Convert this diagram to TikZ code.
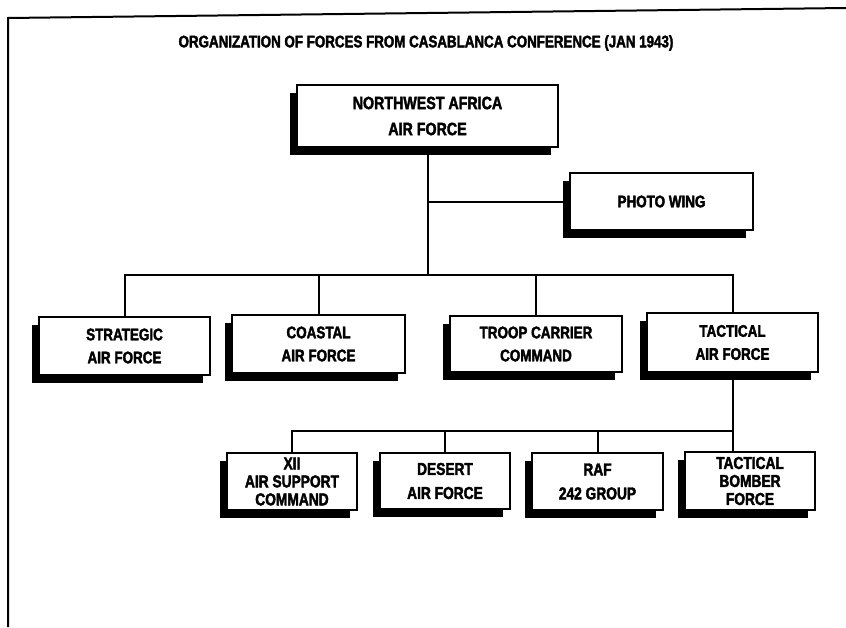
\documentclass[tikz,border=0pt]{standalone}
\usepackage{fontspec}
\newfontfamily\heavy{Liberation Sans Bold}[FakeStretch=0.8, FakeBold=2.2]
\usetikzlibrary{shadows}
\begin{document}
\begin{tikzpicture}[x=1pt,y=-1pt,
  box/.style={draw, line width=2pt, fill=white, align=center, inner sep=0pt,
    font=\heavy\fontsize{16.8}{23}\selectfont,
    drop shadow={shadow xshift=-7.5pt, shadow yshift=-7.5pt, fill=black, opacity=1}},
  bigbox/.style={box, font=\heavy\fontsize{17.8}{26}\selectfont},
  tightbox/.style={box, font=\heavy\fontsize{17.2}{18}\selectfont},
  midbox/.style={box, font=\heavy\fontsize{17.2}{24}\selectfont},
  link/.style={line width=2pt},
  frame/.style={line width=2pt}]
\useasboundingbox (0,0) rectangle (846,627);
% frame
\draw[frame] (8,627) -- (8,18) -- (846,8);
% title
\node[font=\heavy\fontsize{16.7}{18}\selectfont] (title) at (426,43)
  {ORGANIZATION OF FORCES FROM CASABLANCA CONFERENCE (JAN 1943)};
% nodes
\node[bigbox, minimum width=261pt, minimum height=62pt] (naaf) at (427.5,116)
  {NORTHWEST AFRICA\\AIR FORCE};
\node[box, minimum width=183pt, minimum height=57pt] (photo) at (661.5,201.5)
  {PHOTO WING};
\node[box, minimum width=171pt, minimum height=58pt] (strat) at (124.5,346)
  {STRATEGIC\\AIR FORCE};
\node[box, minimum width=173pt, minimum height=58pt] (coast) at (318.5,344)
  {COASTAL\\AIR FORCE};
\node[box, minimum width=172pt, minimum height=56pt] (troop) at (536,344)
  {TROOP CARRIER\\COMMAND};
\node[box, minimum width=171pt, minimum height=59pt] (tac) at (732.5,342.5)
  {TACTICAL\\AIR FORCE};
\node[tightbox, minimum width=130pt, minimum height=57pt] (xii) at (292,481.5)
  {XII\\AIR SUPPORT\\COMMAND};
\node[midbox, minimum width=130pt, minimum height=56pt] (desert) at (445,481)
  {DESERT\\AIR FORCE};
\node[midbox, minimum width=131pt, minimum height=57pt] (raf) at (597.5,481.5)
  {RAF\\242 GROUP};
\node[tightbox, minimum width=130pt, minimum height=58pt] (tbf) at (750,481)
  {TACTICAL\\BOMBER\\FORCE};
% bus coordinates
\coordinate (bus1) at (0,275);
\coordinate (bus2) at (0,431);
% connectors, level 1
\draw[link] (naaf.south) -- (naaf.south |- bus1);
\draw[link] (naaf.south |- photo.west) -- (photo.west);
\draw[link] (strat.north) -- (strat.north |- bus1) -- (tac.north |- bus1) -- (tac.north);
\draw[link] (coast.north) -- (coast.north |- bus1);
\draw[link] (troop.north) -- (troop.north |- bus1);
% connectors, level 2
\draw[link] (tac.south) -- (tac.south |- tbf.north);
\draw[link] (xii.north) -- (xii.north |- bus2) -- (tac.south |- bus2);
\draw[link] (desert.north) -- (desert.north |- bus2);
\draw[link] (raf.north) -- (raf.north |- bus2);
\end{tikzpicture}
\end{document}
